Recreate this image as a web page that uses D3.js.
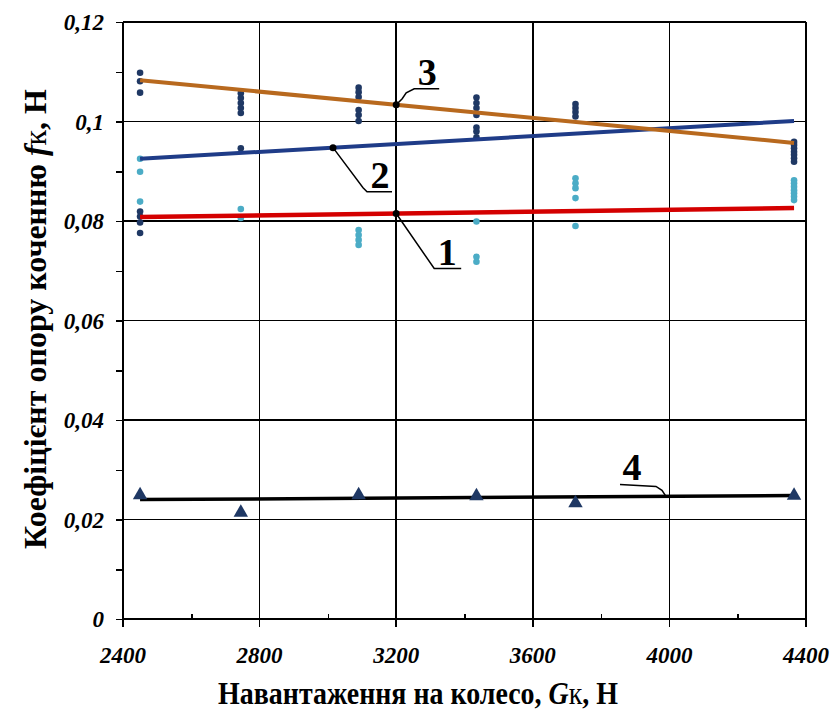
<!DOCTYPE html>
<html>
<head>
<meta charset="utf-8">
<script src="https://cdn.jsdelivr.net/npm/d3@7"></script>
<style>
  body { margin: 0; background: #fff; }
  svg { font-family: "Liberation Serif", "Times New Roman", serif; }
  .grid line { stroke: #000; stroke-width: 1.5px; shape-rendering: crispEdges; }
  .axis path, .axis line { stroke: #000; stroke-width: 1.5px; shape-rendering: crispEdges; }
  .tick-label { font-weight: bold; font-style: italic; font-size: 23px; }
  .title { font-weight: bold; font-size: 32px; }
  .mark-label { font-weight: bold; font-size: 38px; }
  .leader { fill: none; stroke: #000; stroke-width: 1.5px; }
</style>
</head>
<body>
<svg id="svg"></svg>
<script>
// loads on the wheel, N
var loads = [2450, 2745, 3090, 3435, 3725, 4365];

// measured points, dark series (near curves 3 and 2)
var darkPoints = [
  [0.1098, 0.1081, 0.1058, 0.0819, 0.0809, 0.0797, 0.0776],
  [0.1057, 0.1047, 0.1037, 0.1027, 0.1017, 0.0946],
  [0.1068, 0.1059, 0.1049, 0.1023, 0.1013, 0.1001],
  [0.1048, 0.1037, 0.1027, 0.1013, 0.0988, 0.0980, 0.0968],
  [0.1035, 0.1027, 0.1019, 0.1010],
  [0.0959, 0.0953, 0.0946, 0.0939, 0.0933, 0.0926, 0.0919]
];

// measured points, light series (near curves 1 and 2)
var lightPoints = [
  [0.0925, 0.0899, 0.0839],
  [0.0824, 0.0806],
  [0.0782, 0.0772, 0.0762, 0.0752],
  [0.0799, 0.0728, 0.0718],
  [0.0886, 0.0876, 0.0866, 0.0846, 0.0790],
  [0.0882, 0.0876, 0.0869, 0.0862, 0.0856, 0.0849, 0.0842]
];

// curve 4 points (triangles)
var trianglePoints = [0.0249, 0.0214, 0.0249, 0.0247, 0.0233, 0.0248];

// trend lines, value at first and last load
var trendLoads = [2450, 4365];
var trend1 = [0.0808, 0.0826];
var trend2 = [0.0925, 0.1001];
var trend3 = [0.1083, 0.0957];
var trend4 = [0.0240, 0.0248];

var xTicks = [2400, 2800, 3200, 3600, 4000, 4400];
var yTicks = [0, 0.02, 0.04, 0.06, 0.08, 0.1, 0.12];
var yTickLabels = ["0", "0,02", "0,04", "0,06", "0,08", "0,1", "0,12"];

var margin = {top: 22, right: 30, bottom: 102, left: 123};
var W = 836, H = 721;
var width = W - margin.left - margin.right;
var height = H - margin.top - margin.bottom;

var x = d3.scaleLinear().domain([2400, 4400]).range([0, width]);
var y = d3.scaleLinear().domain([0, 0.12]).range([height, 0]);

var root = d3.select("#svg").attr("width", W).attr("height", H);
var svg = root.append("g")
  .attr("transform", "translate(" + margin.left + "," + margin.top + ")");

// grid
var grid = svg.append("g").attr("class", "grid");
grid.selectAll("line.h").data(yTicks.slice(1)).enter().append("line")
  .attr("class", "h")
  .attr("x1", 0).attr("x2", width)
  .attr("y1", function(d) { return y(d); })
  .attr("y2", function(d) { return y(d); });
grid.selectAll("line.v").data(xTicks.slice(1)).enter().append("line")
  .attr("class", "v")
  .attr("x1", function(d) { return x(d); })
  .attr("x2", function(d) { return x(d); })
  .attr("y1", 0).attr("y2", height + 8);

// y axis: minor ticks every 0.01
var yAxis = d3.axisLeft(y).tickValues(d3.range(0, 0.1201, 0.01)).tickSize(7).tickFormat("");
svg.append("g").attr("class", "axis").call(yAxis)
  .select(".domain").attr("d", "M0," + (height + 8) + "V0");

// x axis: minor ticks every 200 pointing up
var xAxis = d3.axisBottom(x).tickValues(d3.range(2600, 4400, 400)).tickSize(-5).tickFormat("");
svg.append("g").attr("class", "axis")
  .attr("transform", "translate(0," + height + ")")
  .call(xAxis)
  .select(".domain").attr("d", "M0,0H" + width);

// tick labels
svg.append("g").selectAll("text").data(yTicks).enter().append("text")
  .attr("class", "tick-label")
  .attr("text-anchor", "end")
  .attr("x", -19)
  .attr("y", function(d) { return y(d); })
  .attr("dy", "0.35em")
  .text(function(d, i) { return yTickLabels[i]; });

svg.append("g").selectAll("text").data(xTicks).enter().append("text")
  .attr("class", "tick-label")
  .attr("text-anchor", "middle")
  .attr("x", function(d) { return x(d); })
  .attr("y", height + 36)
  .attr("dy", "0.35em")
  .text(function(d) { return d; });

// scatter points
function flat(groups) {
  var out = [];
  groups.forEach(function(vals, i) {
    vals.forEach(function(v) { out.push({load: loads[i], value: v}); });
  });
  return out;
}

svg.append("g").selectAll("circle").data(flat(lightPoints)).enter().append("circle")
  .attr("cx", function(d) { return x(d.load); })
  .attr("cy", function(d) { return y(d.value); })
  .attr("r", 3.3)
  .attr("fill", "#4bacc6");

svg.append("g").selectAll("circle").data(flat(darkPoints)).enter().append("circle")
  .attr("cx", function(d) { return x(d.load); })
  .attr("cy", function(d) { return y(d.value); })
  .attr("r", 3.3)
  .attr("fill", "#1f3864");

// trend lines
var line = d3.line()
  .x(function(d, i) { return x(trendLoads[i]); })
  .y(function(d) { return y(d); });

svg.append("path").datum(trend4).attr("d", line)
  .attr("fill", "none").attr("stroke", "#000").attr("stroke-width", 3.5);
svg.append("path").datum(trend1).attr("d", line)
  .attr("fill", "none").attr("stroke", "#d40000").attr("stroke-width", 4.5);
svg.append("path").datum(trend2).attr("d", line)
  .attr("fill", "none").attr("stroke", "#1f3c88").attr("stroke-width", 4);
svg.append("path").datum(trend3).attr("d", line)
  .attr("fill", "none").attr("stroke", "#b8691e").attr("stroke-width", 4);

// triangles of curve 4
svg.append("g").selectAll("path").data(trianglePoints).enter().append("path")
  .attr("d", d3.symbol().type(d3.symbolTriangle).size(90))
  .attr("transform", function(d, i) { return "translate(" + x(loads[i]) + "," + y(d) + ")"; })
  .attr("fill", "#1f3864");

// curve labels with leaders
function valueAt(trend, load) {
  var t = (load - trendLoads[0]) / (trendLoads[1] - trendLoads[0]);
  return trend[0] + t * (trend[1] - trend[0]);
}

var labels = [
  {text: "3", trend: trend3, load: 3200, pts: [[0, 0], [6, -6], [10, -12], [18, -16], [43, -16]], tx: 31, ty: -20, dot: true},
  {text: "2", trend: trend2, load: 3015, pts: [[0, 0], [30, 40], [34, 44], [59, 44]], tx: 47, ty: 40, dot: true},
  {text: "1", trend: trend1, load: 3200, pts: [[0, 0], [38, 55], [65, 55]], tx: 51, ty: 51, dot: true},
  {text: "4", trend: trend4, load: 3990, pts: [[0, 0], [-4, -6], [-10, -10], [-46, -12]], tx: -34, ty: -16, dot: false}
];

labels.forEach(function(l) {
  var px = x(l.load), py = y(valueAt(l.trend, l.load));
  var g = svg.append("g").attr("transform", "translate(" + px + "," + py + ")");
  g.append("path").attr("class", "leader").attr("d", d3.line()(l.pts));
  if (l.dot) g.append("circle").attr("r", 3.5).attr("fill", "#000");
  g.append("text").attr("class", "mark-label")
    .attr("text-anchor", "middle")
    .attr("x", l.tx).attr("y", l.ty)
    .text(l.text);
});

// axis titles, squeezed to the length they take in the original
function squeeze(text, target, pos) {
  var w = text.node().getComputedTextLength();
  text.attr("transform", pos + " scale(" + (target / w) + ",1)");
}

var xt = root.append("text").attr("class", "title").attr("text-anchor", "middle");
xt.append("tspan").text("Навантаження на колесо, ");
xt.append("tspan").attr("font-style", "italic").text("G");
xt.append("tspan").attr("font-weight", "normal").text("к");
xt.append("tspan").text(", Н");
squeeze(xt, 400, "translate(418,704)");

var yt = root.append("text").attr("class", "title").attr("text-anchor", "middle");
yt.append("tspan").text("Коефіцієнт опору коченню ");
yt.append("tspan").attr("font-style", "italic").text("f");
yt.append("tspan").attr("font-weight", "normal").text("к");
yt.append("tspan").text(", Н");
squeeze(yt, 460, "translate(46,319) rotate(-90)");
</script>
</body>
</html>
